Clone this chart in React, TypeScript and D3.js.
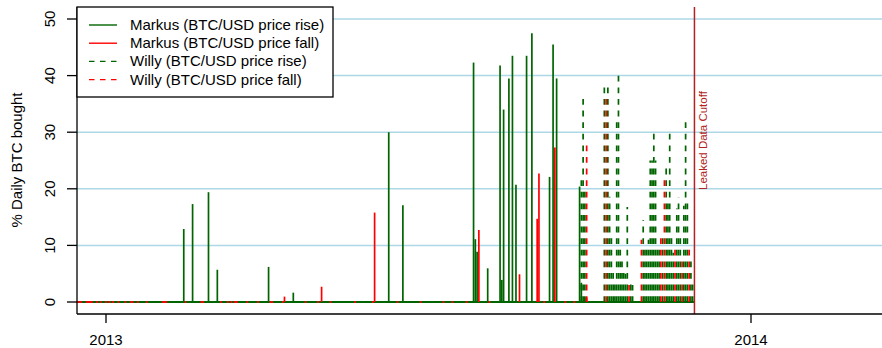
import React from "react";
import * as d3 from "d3";

// ---------- data ----------
const markusRiseDates = [
  "2013-02-14", "2013-02-19", "2013-02-28", "2013-03-05", "2013-04-03", "2013-04-17",
  "2013-06-10", "2013-06-18", "2013-07-28", "2013-07-29", "2013-07-30", "2013-08-05",
  "2013-08-12", "2013-08-13", "2013-08-14", "2013-08-17", "2013-08-19", "2013-08-21",
  "2013-08-27", "2013-08-30", "2013-09-09", "2013-09-11", "2013-09-13", "2013-09-26",
  "2013-09-27",
];
const markusRiseValues = [
  12.9, 17.3, 19.4, 5.7, 6.2, 1.65,
  30.0, 17.1, 42.3, 11.1, 8.9, 5.95,
  41.8, 3.9, 34.0, 39.5, 43.5, 20.7,
  43.5, 47.5, 22.1, 45.5, 39.5, 20.4,
  3.4,
];

const markusFallDates = [
  "2013-04-12", "2013-05-03", "2013-06-02", "2013-07-31", "2013-08-23",
  "2013-09-02", "2013-09-03", "2013-09-12", "2013-09-29", "2013-09-30",
];
const markusFallValues = [0.95, 2.7, 15.8, 12.7, 4.9, 14.7, 22.7, 27.3, 0.8, 0.8];

const willyRiseDates = [
  "2013-09-27", "2013-09-28", "2013-09-29",
  "2013-10-10", "2013-10-12", "2013-10-13", "2013-10-14", "2013-10-15", "2013-10-16",
  "2013-10-17", "2013-10-18", "2013-10-19", "2013-10-20", "2013-10-21", "2013-10-22",
  "2013-10-23", "2013-10-25", "2013-10-26",
  "2013-11-01", "2013-11-02", "2013-11-03", "2013-11-04", "2013-11-05", "2013-11-06",
  "2013-11-07", "2013-11-08", "2013-11-09", "2013-11-10", "2013-11-12", "2013-11-14",
  "2013-11-15", "2013-11-16", "2013-11-17", "2013-11-18", "2013-11-20", "2013-11-21",
  "2013-11-22", "2013-11-24", "2013-11-25", "2013-11-26", "2013-11-28", "2013-11-29",
];
const willyRiseValues = [
  22.4, 36.9, 20.5,
  38.7, 38.7, 18.6, 12.3, 6, 4,
  32.7, 40.1, 10, 8, 6, 5,
  16.8, 4, 3,
  14.5, 10, 10, 11, 25, 25,
  30.4, 25, 10, 10, 12, 24.5,
  18, 30.4, 12, 8.7, 16.5, 18.5,
  12, 17, 32.5, 18, 8, 4,
];

const willyFallDates = [
  "2013-09-30", "2013-10-11", "2013-10-24", "2013-10-31", "2013-11-11",
  "2013-11-13", "2013-11-19", "2013-11-23", "2013-11-27",
];
const willyFallValues = [28.6, 36.6, 3, 11, 12, 22.4, 10, 8, 10];

// days on which the price fell (red marks along the zero line)
const fallDays = [
  "2012-12-16", "2012-12-17", "2012-12-18", "2012-12-21", "2012-12-22", "2012-12-23",
  "2012-12-24", "2012-12-27", "2012-12-29", "2013-01-01", "2013-01-03", "2013-01-05",
  "2013-01-08", "2013-01-12", "2013-01-15", "2013-01-16", "2013-01-19", "2013-01-24",
  "2013-02-02", "2013-02-03", "2013-02-04", "2013-02-15", "2013-02-24", "2013-02-25",
  "2013-03-07", "2013-03-11", "2013-03-13", "2013-03-15", "2013-03-16", "2013-03-22",
  "2013-03-28", "2013-04-04", "2013-04-05", "2013-04-11", "2013-04-24", "2013-05-01",
  "2013-05-08", "2013-05-22", "2013-06-01", "2013-06-15", "2013-06-28", "2013-07-11",
  "2013-07-16", "2013-07-24", "2013-08-06", "2013-09-06", "2013-09-18", "2013-09-23",
];

const dataStart = "2012-12-16";
const dataEnd = "2013-11-30";
const cutoffDate = "2013-11-30";

const yTicks = [0, 10, 20, 30, 40, 50];
const gridValues = [10, 20, 30, 40, 50];
const xTickDates = ["2013-01-01", "2014-01-01"];
const xTickLabels = ["2013", "2014"];

const legendLabels = [
  "Markus (BTC/USD price rise)",
  "Markus (BTC/USD price fall)",
  "Willy (BTC/USD price rise)",
  "Willy (BTC/USD price fall)",
];

// ---------- chart ----------
const GREEN = "#006400";
const RED = "#FF0000";
const CUT = "#B22222";
const FONT = "'Liberation Sans', Arial, Helvetica, sans-serif";

export default function App() {
  const parse = d3.utcParse("%Y-%m-%d");
  const W = 882;
  const H = 348;
  const left = 77;
  const top = 7;
  const bottom = 314;
  const right = 900;

  const x = d3
    .scaleUtc()
    .domain([parse("2013-01-01")!, parse("2014-01-01")!])
    .range([106, 751]);
  const y = d3.scaleLinear().domain([0, 50]).range([302, 19]);

  const dash = "5.8,5.8";

  const spikes = (dates: string[], vals: number[], color: string, dashed: boolean, key: string) =>
    dates.map((d, i) => (
      <line
        key={key + i}
        x1={x(parse(d)!)}
        x2={x(parse(d)!)}
        y1={y(0)}
        y2={y(vals[i])}
        stroke={color}
        strokeWidth={1.7}
        strokeDasharray={dashed ? dash : undefined}
      />
    ));

  const dayW = x(parse("2013-01-02")!) - x(parse("2013-01-01")!);

  return (
    <svg
      width={W}
      height={H}
      style={{ position: "absolute", left: 0, top: 0, background: "#fff" }}
      fontFamily={FONT}
    >
      <rect x={0} y={0} width={W} height={H} fill="#fff" />
      {/* grid */}
      {gridValues.map((v) => (
        <line key={"g" + v} x1={left} x2={right} y1={y(v)} y2={y(v)} stroke="#ADD8E6" strokeWidth={1.5} />
      ))}
      {/* zero line */}
      <line
        x1={x(parse(dataStart)!)}
        x2={x(parse(dataEnd)!)}
        y1={y(0)}
        y2={y(0)}
        stroke={GREEN}
        strokeWidth={2}
      />
      {fallDays.map((d, i) => (
        <line
          key={"f" + i}
          x1={x(parse(d)!) - dayW / 2}
          x2={x(parse(d)!) + dayW / 2}
          y1={y(0)}
          y2={y(0)}
          stroke={RED}
          strokeWidth={2}
        />
      ))}
      {spikes(markusRiseDates, markusRiseValues, GREEN, false, "mr")}
      {spikes(markusFallDates, markusFallValues, RED, false, "mf")}
      {spikes(willyRiseDates, willyRiseValues, GREEN, true, "wr")}
      {spikes(willyFallDates, willyFallValues, RED, true, "wf")}

      {/* cutoff */}
      <line
        x1={x(parse(cutoffDate)!)}
        x2={x(parse(cutoffDate)!)}
        y1={top}
        y2={bottom}
        stroke={CUT}
        strokeWidth={1.5}
      />
      <text
        transform={`translate(${x(parse(cutoffDate)!) + 13},190) rotate(-90)`}
        fontSize={11.5}
        fill={CUT}
        textAnchor="start"
      >
        Leaked Data Cutoff
      </text>

      {/* axes box (L-shaped) */}
      <line x1={left} x2={left} y1={top} y2={bottom} stroke="#000" strokeWidth={1.3} />
      <line x1={left} x2={right} y1={bottom} y2={bottom} stroke="#000" strokeWidth={1.3} />

      {/* y axis */}
      {yTicks.map((v) => (
        <g key={"yt" + v}>
          <line x1={left - 10} x2={left} y1={y(v)} y2={y(v)} stroke="#000" strokeWidth={1.3} />
          <text
            transform={`translate(55,${y(v)}) rotate(-90)`}
            textAnchor="middle"
            fontSize={15}
            fill="#000"
          >
            {v}
          </text>
        </g>
      ))}
      <text transform={`translate(22,160) rotate(-90)`} textAnchor="middle" fontSize={15} fill="#000">
        % Daily BTC bought
      </text>

      {/* x axis */}
      {xTickDates.map((d, i) => (
        <g key={"xt" + i}>
          <line
            x1={x(parse(d)!)}
            x2={x(parse(d)!)}
            y1={bottom}
            y2={bottom + 9}
            stroke="#000"
            strokeWidth={1.3}
          />
          <text x={x(parse(d)!)} y={344.5} textAnchor="middle" fontSize={15} fill="#000">
            {xTickLabels[i]}
          </text>
        </g>
      ))}

      {/* legend */}
      <rect x={77} y={7} width={256} height={90} fill="#fff" stroke="#000" strokeWidth={1.3} />
      {legendLabels.map((lab, i) => {
        const ly = 25 + i * 18.2;
        const color = i % 2 === 0 ? GREEN : RED;
        const dashed = i >= 2;
        return (
          <g key={"lg" + i}>
            <line
              x1={89}
              x2={117}
              y1={ly}
              y2={ly}
              stroke={color}
              strokeWidth={1.4}
              strokeDasharray={dashed ? "5.5,5.5" : undefined}
            />
            <text x={130} y={ly + 5} fontSize={15} fill="#000">
              {lab}
            </text>
          </g>
        );
      })}
    </svg>
  );
}
